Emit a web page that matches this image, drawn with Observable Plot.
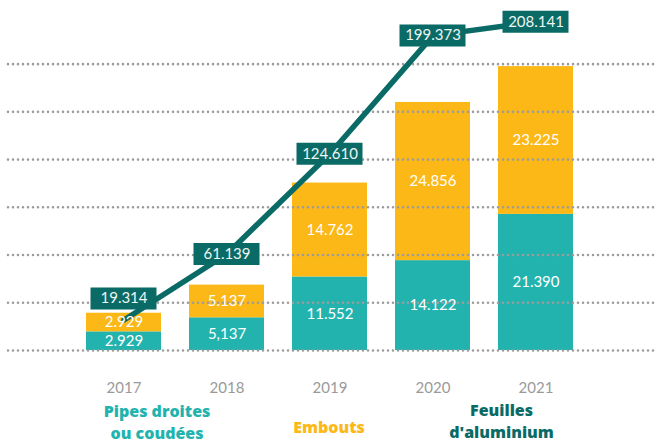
<!DOCTYPE html>
<html>
<head>
<meta charset="utf-8">
<script src="https://cdn.jsdelivr.net/npm/d3@7"></script>
<script src="https://cdn.jsdelivr.net/npm/@observablehq/plot@0.6"></script>
<style>
  html, body { margin: 0; padding: 0; background: #fff; }
  #chart { position: relative; width: 657px; height: 443px; overflow: hidden; font-family: Lato, "Open Sans", sans-serif; }
  #chart svg { position: absolute; left: 0; top: 0; }
  .leg { position: absolute; transform: translateX(-50%); text-align: center; font-family: "Open Sans", Lato, sans-serif; font-weight: 800; font-size: 16px; line-height: 22px; white-space: nowrap; }
</style>
</head>
<body>
<div id="chart"></div>
<script>
// ---- data ----
const years = ["2017", "2018", "2019", "2020", "2021"];
const pipes = [2929, 5137, 11552, 14122, 21390];
const pipesLabels = ["2.929", "5,137", "11.552", "14.122", "21.390"];
const embouts = [2929, 5137, 14762, 24856, 23225];
const emboutsLabels = ["2.929", "5.137", "14.762", "24.856", "23.225"];
const feuilles = [19314, 61139, 124610, 199373, 208141];
const feuillesLabels = ["19.314", "61.139", "124.610", "199.373", "208.141"];
const seriesNames = ["Pipes droites ou coudées", "Embouts", "Feuilles d'aluminium"];
const gridTicks = [0, 7500, 15000, 22500, 30000, 37500, 45000];

// ---- styles ----
const TEAL = "#22b3ae", YELLOW = "#fbb817", DARK = "#0a6b66";

const barData = [];
years.forEach((y, i) => {
  barData.push({year: y, series: seriesNames[0], value: pipes[i], label: pipesLabels[i]});
  barData.push({year: y, series: seriesNames[1], value: embouts[i], label: emboutsLabels[i]});
});
const lineData = years.map((y, i) => ({year: y, total: feuilles[i], label: feuillesLabels[i]}));

const W = 657, H = 400;
const xOpts = {type: "band", domain: years, paddingInner: 0.275, paddingOuter: 0.7757, align: 0.483, axis: null};
const barY = {domain: [0, 55000], axis: null};
const common = {width: W, height: H, marginTop: 0, marginBottom: 50, marginLeft: 8, marginRight: 0,
  style: {fontFamily: "Lato, 'Open Sans', sans-serif", background: "transparent", overflow: "visible"}};

const bars = Plot.plot({
  ...common,
  x: xOpts,
  y: barY,
  color: {domain: seriesNames.slice(0, 2), range: [TEAL, YELLOW]},
  marks: [
    Plot.barY(barData, {x: "year", y: "value", fill: "series"}),
    Plot.ruleY(gridTicks, {stroke: "#9c9c9c", strokeWidth: 2.6, strokeDasharray: "0,5", strokeLinecap: "round"}),
    Plot.axisX({tickSize: 0, tickPadding: 32, fontSize: 15, color: "#9a9a9a", label: null})
  ]
});

const first = lineData.filter(d => d.year === years[0]);
const rest = lineData.filter(d => d.year !== years[0]);
const line = Plot.plot({
  ...common,
  x: xOpts,
  y: {domain: [0, 221600], axis: null},
  marks: [
    Plot.line(lineData, {x: "year", y: "total", stroke: DARK, strokeWidth: 5.5}),
    Plot.tickY(rest, {x: "year", y: "total", stroke: DARK, strokeWidth: 22, insetLeft: 4.5, insetRight: 4.5}),
    Plot.tickY(first, {x: "year", y: "total", stroke: DARK, strokeWidth: 22, insetLeft: 4.5, insetRight: 4.5, dy: -21.5}),
    Plot.text(rest, {x: "year", y: "total", text: "label", fill: "#eef5f3", fontSize: 15}),
    Plot.text(first, {x: "year", y: "total", text: "label", fill: "#eef5f3", fontSize: 15, dy: -21.5})
  ]
});

// bar value labels on top of the line
const labels = Plot.plot({
  ...common,
  x: xOpts,
  y: barY,
  marks: [
    Plot.text(barData, Plot.stackY({x: "year", y: "value", z: "series", text: "label", fill: "#ffffff", fontSize: 15}))
  ]
});

const chart = document.getElementById("chart");
chart.appendChild(bars);
chart.appendChild(line);
chart.appendChild(labels);

// ---- legend ----
const legend = [
  {html: "Pipes droites<br>ou coudées", color: TEAL, left: 157, top: 399.5},
  {html: "Embouts", color: YELLOW, left: 329, top: 415.5},
  {html: "Feuilles<br>d'aluminium", color: DARK, left: 501.5, top: 399}
];
legend.forEach(l => {
  const d = document.createElement("div");
  d.className = "leg";
  d.innerHTML = l.html;
  d.style.color = l.color;
  d.style.left = l.left + "px";
  d.style.top = l.top + "px";
  chart.appendChild(d);
});
</script>
</body>
</html>
